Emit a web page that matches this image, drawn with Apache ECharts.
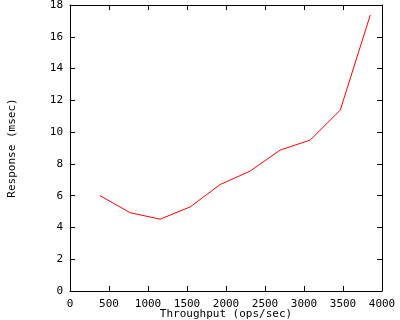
<!DOCTYPE html>
<html lang="en">
<head>
    <meta charset="UTF-8">
    <title>Response vs Throughput</title>
</head>
<body style="margin:0">
<div id="main" style="width: 400px; height: 320px;"></div>

<script src="https://cdn.jsdelivr.net/npm/echarts@6/dist/echarts.min.js"></script>

<script>
var throughput = [385, 770, 1155, 1540, 1925, 2310, 2695, 3080, 3465, 3850];
var response = [6.0, 4.93, 4.52, 5.29, 6.7, 7.55, 8.87, 9.5, 11.39, 17.37];

var font = 'DejaVu Sans Mono';
var myChart = echarts.init(document.getElementById('main'));

var axisBase = {
    type: 'value',
    axisLine: {show: true, onZero: false, lineStyle: {color: '#000', width: 1}},
    axisTick: {show: true, inside: true, length: 5, lineStyle: {color: '#000'}},
    splitLine: {show: false},
    axisLabel: {
        color: '#000', fontFamily: font, fontSize: 11,
        formatter: function (v) { return String(v); }
    }
};

myChart.setOption({
    animation: false,
    grid: {left: 70, right: 18, top: 5, bottom: 29, containLabel: false, outerBoundsMode: 'none'},
    xAxis: [
        Object.assign({}, axisBase, {
            position: 'bottom', min: 0, max: 4000, interval: 500,
            name: 'Throughput (ops/sec)', nameLocation: 'middle', nameGap: 18,
            nameMoveOverlap: false,
            nameTextStyle: {color: '#000', fontFamily: font, fontSize: 11},
            axisLabel: Object.assign({}, axisBase.axisLabel, {margin: 8})
        }),
        Object.assign({}, axisBase, {
            position: 'top', min: 0, max: 4000, interval: 500,
            axisLabel: {show: false}
        })
    ],
    yAxis: [
        Object.assign({}, axisBase, {
            position: 'left', min: 0, max: 18, interval: 2,
            name: 'Response (msec)', nameLocation: 'middle', nameGap: 52,
            nameMoveOverlap: false,
            nameTextStyle: {color: '#000', fontFamily: font, fontSize: 11},
            axisLabel: Object.assign({}, axisBase.axisLabel, {margin: 7})
        }),
        Object.assign({}, axisBase, {
            position: 'right', min: 0, max: 18, interval: 2,
            axisLabel: {show: false}
        })
    ],
    series: [{
        type: 'line',
        data: throughput.map(function (x, i) { return [x, response[i]]; }),
        showSymbol: false,
        lineStyle: {color: '#ff0000', width: 1},
        itemStyle: {color: '#ff0000'}
    }]
});
</script>
</body>
</html>
